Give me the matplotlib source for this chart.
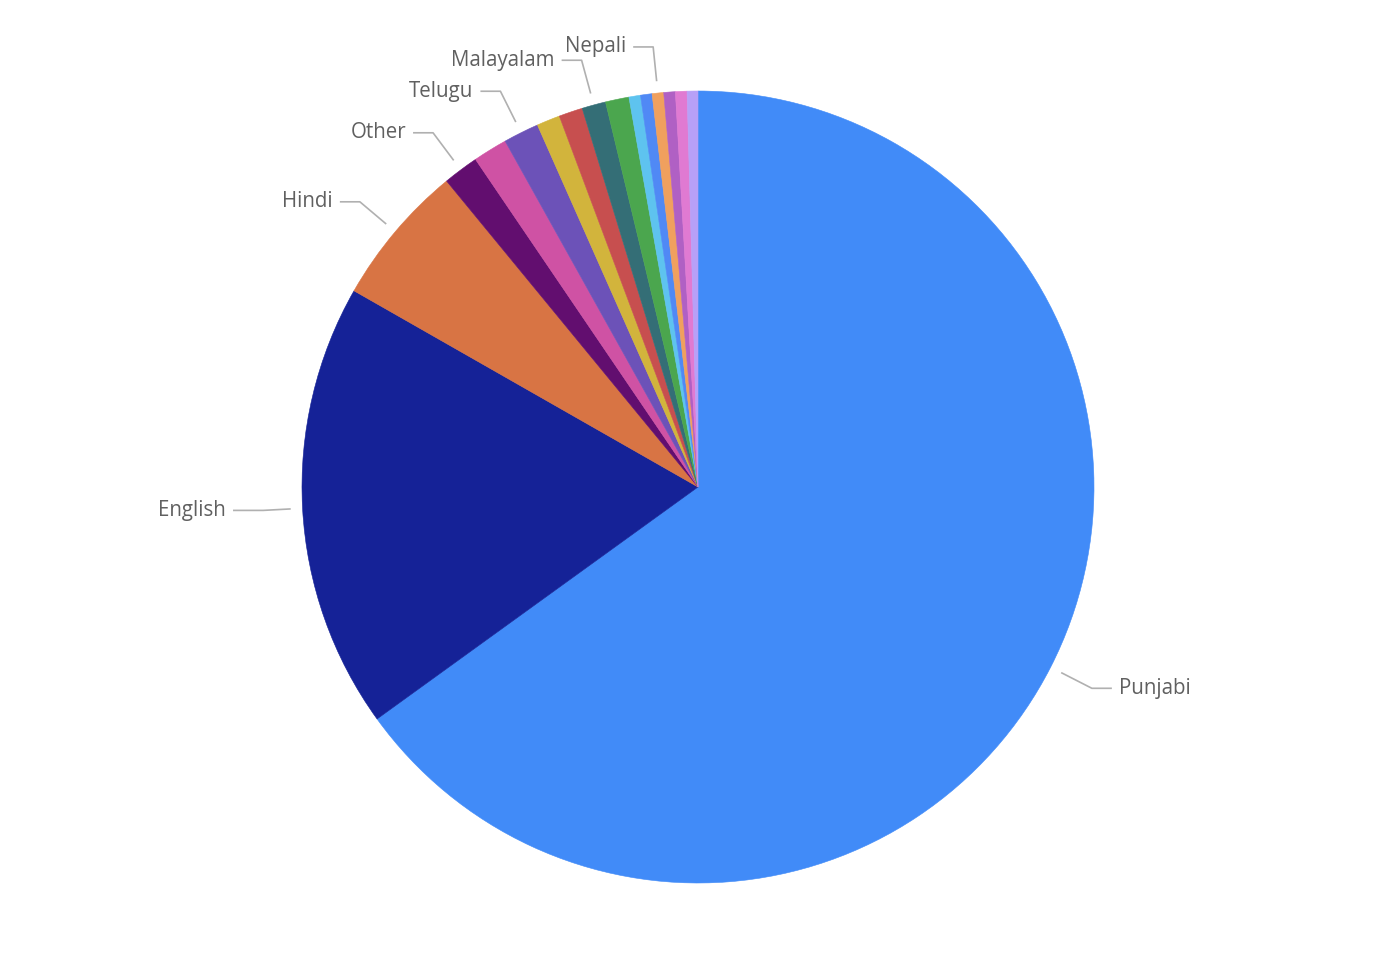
import numpy as np
import matplotlib.pyplot as plt

# Language share (%), clockwise from 12 o'clock
languages = ['Punjabi', 'English', 'Hindi', 'Other', 'Urdu', 'Telugu', 'Tamil',
             'Gujarati', 'Malayalam', 'Bengali', 'Marathi', 'Kannada', 'Nepali',
             'French', 'Sindhi', 'Odia']
shares = [65.0, 18.2, 5.8, 1.45, 1.4, 1.45, 0.95, 0.97, 0.97, 0.96,
          0.47, 0.47, 0.47, 0.47, 0.47, 0.44]
colors = ['#418bf8', '#152297', '#d87444', '#620e6f', '#cf52a4', '#6c52b8',
          '#d2b43c', '#c74f4f', '#346e76', '#4ba64e', '#5ec3ef', '#5089f5',
          '#f0a05e', '#b060c4', '#e07ad2', '#b7a0f7']
# only these get a visible label in the original
shown = ['Punjabi', 'English', 'Hindi', 'Other', 'Telugu', 'Malayalam', 'Nepali']

W, H = 1400, 958
fig = plt.figure(figsize=(W / 100, H / 100), dpi=100)
ax = fig.add_axes([0, 0, 1, 1])

cx, cy, r = 698, H - 487, 396
wedges, _ = ax.pie(shares, colors=colors, startangle=90, counterclock=False,
                   center=(cx, cy), radius=r, wedgeprops=dict(linewidth=0.4))
for w, c in zip(wedges, colors):
    w.set_edgecolor(c)

# pie() resets the limits, so set them afterwards
ax.set_xlim(0, W)
ax.set_ylim(0, H)
ax.set_aspect('equal')
ax.axis('off')

# --- leader lines + labels ---
for w, name in zip(wedges, languages):
    if name not in shown:
        continue
    ang = np.deg2rad((w.theta1 + w.theta2) / 2)
    x0, y0 = cx + 1.03 * r * np.cos(ang), cy + 1.03 * r * np.sin(ang)
    k = 1.10 if name == 'English' else 1.117
    x1, y1 = cx + k * r * np.cos(ang), cy + k * r * np.sin(ang)
    side = 1 if np.cos(ang) > 0 else -1
    x2 = x1 + side * (30 if name == 'English' else 20)
    ax.plot([x0, x1, x2], [y0, y1, y1], color='#b0b0b0', lw=1.2,
            solid_capstyle='butt')
    ax.text(x2 + side * 7, y1, name, ha='left' if side > 0 else 'right',
            va='center', fontsize=14.8, color='#606060', family='Open Sans')

fig.savefig('out.png', dpi=100, facecolor='white')
